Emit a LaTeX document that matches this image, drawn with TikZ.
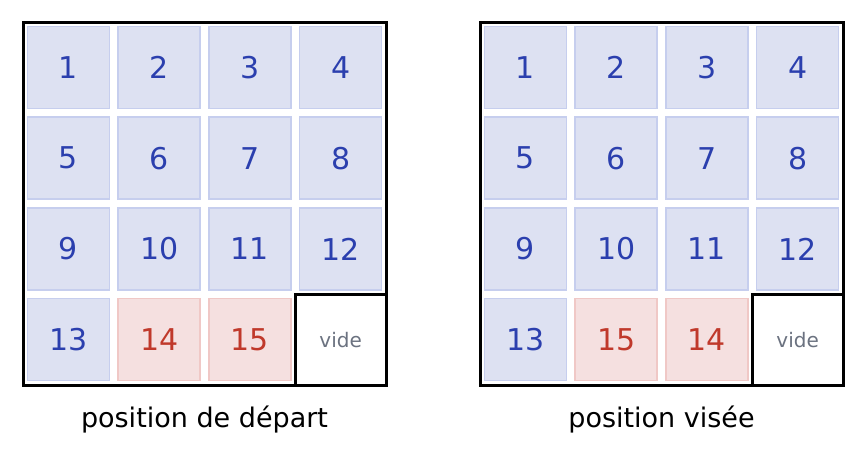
\documentclass[tikz,border=0pt]{standalone}
\usepackage{fontspec}
\setmainfont{DejaVu Sans}
\usetikzlibrary{positioning}
\definecolor{tilefill}{HTML}{DDE1F2}
\definecolor{tileline}{HTML}{C6CEEE}
\definecolor{tiletext}{HTML}{2B3FAE}
\definecolor{swapfill}{HTML}{F5E0E0}
\definecolor{swapline}{HTML}{F0C8C6}
\definecolor{swaptext}{HTML}{C0392B}
\definecolor{emptytext}{HTML}{6B7280}
\tikzset{
  tile/.style={draw=tileline, fill=tilefill, line width=1.5pt, text=tiletext,
    minimum size=82pt, inner sep=0pt, font=\fontsize{30}{32}\selectfont},
  swap/.style={tile, draw=swapline, fill=swapfill, text=swaptext},
  hole/.style={draw=black, fill=white, line width=2.5pt, text=emptytext,
    minimum size=90.75pt, inner sep=0pt, font=\fontsize{20}{22}\selectfont},
  frame/.style={draw=black, line width=3pt},
  caption/.style={font=\fontsize{27}{29}\selectfont}
}
\newcommand{\drawboard}[3]{%
  \foreach \n/\s/\t in {#3} {
    \pgfmathtruncatemacro{\col}{mod(\n-1,4)}
    \pgfmathtruncatemacro{\row}{div(\n-1,4)}
    \node[\s] (#2-\n) at (#1+45.4+\col*90.75, 22+45.4+\row*90.75) {\t};
  }
  \draw[frame] (#1,22) rectangle (#1+363,385);
}
\begin{document}
\begin{tikzpicture}[x=1pt, y=-1pt]
  \useasboundingbox (0,0) rectangle (867,464);
  % start board
  \drawboard{23}{a}{1/tile/1,2/tile/2,3/tile/3,4/tile/4,5/tile/5,6/tile/6,
    7/tile/7,8/tile/8,9/tile/9,10/tile/10,11/tile/11,12/tile/12,
    13/tile/13,14/swap/14,15/swap/15,16/hole/vide}
  % goal board
  \drawboard{480}{b}{1/tile/1,2/tile/2,3/tile/3,4/tile/4,5/tile/5,6/tile/6,
    7/tile/7,8/tile/8,9/tile/9,10/tile/10,11/tile/11,12/tile/12,
    13/tile/13,14/swap/15,15/swap/14,16/hole/vide}
  \node[caption] (capa) at (204.5,420) {position de départ};
  \node[caption] (capb) at (661.5,420) {position visée};
\end{tikzpicture}
\end{document}
